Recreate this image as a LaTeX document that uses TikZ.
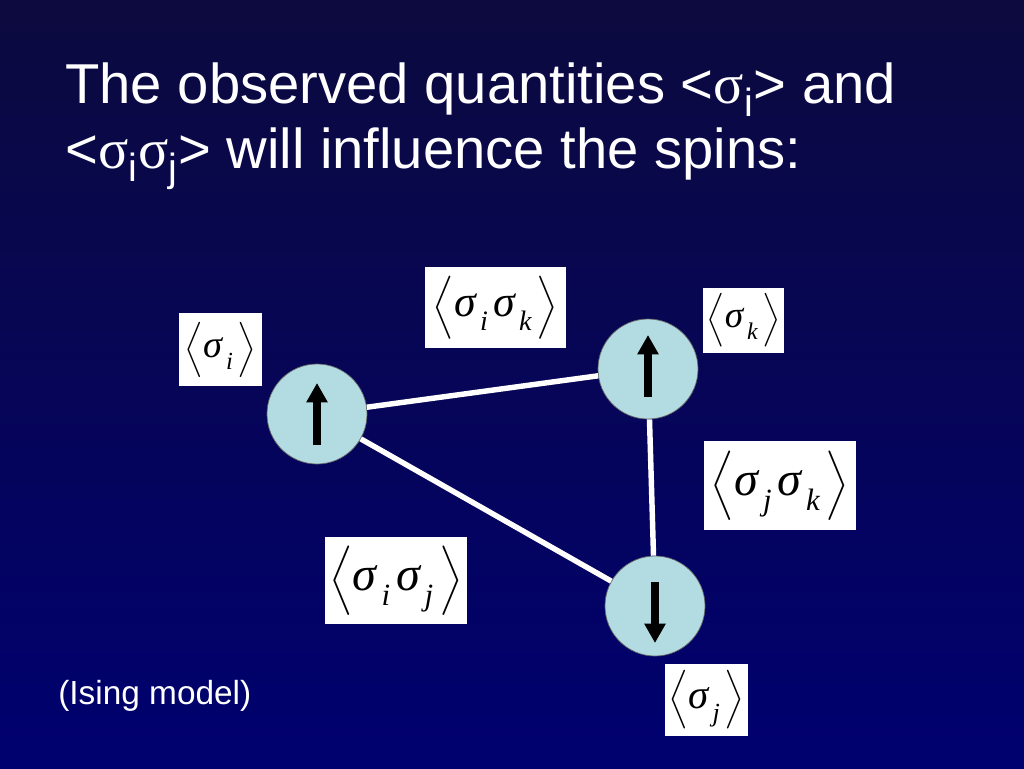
\documentclass[tikz,border=0pt]{standalone}
\usepackage{graphicx}
\usepackage{amsmath}
\usepackage{fontspec}
\setmainfont{Liberation Sans}
\newfontfamily\greekfont{Liberation Serif}
\usetikzlibrary{arrows.meta, calc}
\definecolor{slideTop}{RGB}{12, 10, 62}
\definecolor{slideBottom}{RGB}{0, 0, 112}
\definecolor{spinBlue}{RGB}{178, 220, 226}
\newcommand{\spinsig}[1]{\text{\fontsize{12.5}{14}\selectfont\greekfont\itshape σ\kern0.1em\raisebox{-0.7ex}{\fontsize{8}{9}\selectfont #1}\kern0.12em}}

\begin{document}
\begin{tikzpicture}[x=0.02cm, y=-0.02cm,
    site/.style={circle, draw=black!60, thin, fill=spinBlue, minimum size=2cm},
    bond/.style={draw=white, line width=3.1pt},
    spin/.style={line width=4pt, -{Triangle[width=11.5pt, length=11pt]}},
    obs/.style={fill=white, inner sep=0pt}]
                    % Background
                    \shade[top color=slideTop, bottom color=slideBottom] (0,0) rectangle (1024,768);
                    \useasboundingbox (0,0) rectangle (1024,768);

                    % Title
                    \node[anchor=base west, text=white, font=\fontsize{32}{37}\selectfont, inner sep=0pt] at (65,103) (title1) {The observed quantities <{\greekfont σ}\textsubscript{i}> and};
                    \node[anchor=base west, text=white, font=\fontsize{32}{37}\selectfont, inner sep=0pt] at (65,168) (title2) {<{\greekfont σ}\textsubscript{i}{\greekfont σ}\textsubscript{j}> will influence the spins:};

                    % Sites
                    \node[site] at (317,414) (si) {};
                    \node[site] at (648,369) (sk) {};
                    \node[site] at (655,606) (sj) {};

                    % Bonds
                    \foreach \a/\b in {si/sk, si/sj, sk/sj} \draw[bond] (\a) -- (\b);

                    % Spins
                    \draw[spin] ($(si)+(0,31)$) -- ($(si)+(0,-31)$);
                    \draw[spin] ($(sk)+(0,28)$) -- ($(sk)+(0,-34)$);
                    \draw[spin] ($(sj)+(0,-24)$) -- ($(sj)+(0,37)$);

                    % Observables
                    \node[obs, minimum width=1.66cm, minimum height=1.46cm] at (220.5,349.5) (li) {\scalebox{1.75}{$\Big\langle\spinsig{i}\Big\rangle$}};
                    \node[obs, minimum width=2.82cm, minimum height=1.62cm] at (495.5,307.5) (lik) {\scalebox{2.0}{$\Big\langle\spinsig{i}\spinsig{k}\Big\rangle$}};
                    \node[obs, minimum width=1.62cm, minimum height=1.3cm] at (743.5,320.5) (lk) {\scalebox{1.7}{$\Big\langle\spinsig{k}\Big\rangle$}};
                    \node[obs, minimum width=3.04cm, minimum height=1.78cm] at (780,485.5) (ljk) {\scalebox{2.2}{$\Big\langle\spinsig{j}\spinsig{k}\Big\rangle$}};
                    \node[obs, minimum width=2.84cm, minimum height=1.74cm] at (396,580.5) (lij) {\scalebox{2.2}{$\Big\langle\spinsig{i}\spinsig{j}\Big\rangle$}};
                    \node[obs, minimum width=1.66cm, minimum height=1.44cm] at (706.5,700) (lj) {\scalebox{1.86}{$\Big\langle\spinsig{j}\Big\rangle$}};

                    % Caption
                    \node[anchor=base west, text=white, font=\fontsize{19}{23}\selectfont, inner sep=0pt] at (58,704) (caption) {(Ising model)};
                \end{tikzpicture}
\end{document}
